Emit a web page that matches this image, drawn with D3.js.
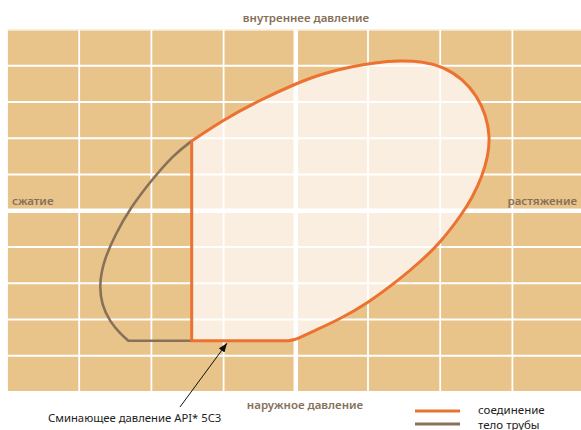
<!DOCTYPE html>
<html><head><meta charset="utf-8">
<script src="https://cdn.jsdelivr.net/npm/d3@7"></script>
<style>html,body{margin:0;padding:0;background:#fff}svg{display:block}</style>
</head><body>
<svg id="c" width="581" height="430"></svg>
<script>
// grid tick values (data units)
const xTicks = [-4,-3,-2,-1,0,1,2,3,4];
const yTicks = [-5,-4,-3,-2,-1,0,1,2,3,4,5];
// joint (соединение) envelope, curved part
const jointX = [-1.442,-1.008,-0.537,0.017,0.377,0.751,1.097,1.443,1.762,2.039,2.316,2.510,2.634,2.690,2.662,2.579,2.440,2.302,2.011,1.720,1.443,1.0,0.612,0.266,0.086,-0.025,-0.100];
const jointY = [1.924,2.503,3.014,3.524,3.786,3.966,4.090,4.145,4.117,3.979,3.634,3.166,2.641,2.034,1.510,0.931,0.352,-0.090,-0.862,-1.414,-1.883,-2.545,-2.986,-3.303,-3.469,-3.566,-3.585];
// collapse limit (API 5C3) and joint vertical limit
const collapseY = -3.585;
const jointLeftX = -1.442;
// pipe body (тело трубы) envelope, visible part
const bodyX = [-1.442,-1.697,-1.996,-2.296,-2.504,-2.666,-2.722,-2.688,-2.573,-2.435,-2.320];
const bodyY = [1.924,1.538,0.848,0.068,-0.669,-1.406,-2.048,-2.600,-3.061,-3.381,-3.585];

const labels = {top:"внутреннее давление", bottom:"наружное давление", left:"сжатие", right:"растяжение"};
const annot = "Сминающее давление API* 5C3";
const legendNames = ["соединение","тело трубы"];

const svg = d3.select("#c");
const x = d3.scaleLinear().domain([-4,4]).range([7,584.6]);
const y = d3.scaleLinear().domain([-5,5]).range([392,29.5]);

const tan = "#e8c38a", cream = "#faeee0", orange = "#ec7232", brown = "#877259", lab = "#86705a";

svg.append("rect").attr("x",x(-4)).attr("y",y(5)).attr("width",x(4)-x(-4)).attr("height",y(-5)-y(5)).attr("fill",tan);

const jointPts = jointX.map((v,i)=>[v,jointY[i]]);
const bodyPts = bodyX.map((v,i)=>[v,bodyY[i]]);
const line = d3.line().x(d=>x(d[0])).y(d=>y(d[1])).curve(d3.curveBasis);
const jointPath = line(jointPts) + "L" + x(jointLeftX) + "," + y(collapseY) + "Z";

svg.append("path").attr("d",jointPath).attr("fill",cream).attr("stroke","none");

// grid
const defs = svg.append("defs");
defs.append("clipPath").attr("id","pc").append("rect")
  .attr("x",x(-4)).attr("y",y(5)).attr("width",x(4)-x(-4)).attr("height",y(-5)-y(5));
const g = svg.append("g").attr("clip-path","url(#pc)");
g.selectAll("line.v").data(xTicks).join("line")
  .attr("x1",d=>x(d)).attr("x2",d=>x(d)).attr("y1",y(5)).attr("y2",y(-5))
  .attr("stroke","#fff").attr("stroke-width",d=>d===0?4.5:1.8);
g.selectAll("line.h").data(yTicks).join("line")
  .attr("y1",d=>y(d)).attr("y2",d=>y(d)).attr("x1",x(-4)).attr("x2",x(4))
  .attr("stroke","#fff").attr("stroke-width",d=>d===0?4.5:1.8);

// pipe body curve
svg.append("path").attr("d", line(bodyPts) + "L" + x(jointLeftX) + "," + y(collapseY))
  .attr("fill","none").attr("stroke",brown).attr("stroke-width",2.6);
// joint curve
svg.append("path").attr("d",jointPath).attr("fill","none").attr("stroke",orange).attr("stroke-width",3).attr("stroke-linejoin","miter");

// axis labels
const font = "'Noto Sans', 'Open Sans', sans-serif";
function t(txt, px, py, anchor, color, weight, size){
  svg.append("text").attr("x",px).attr("y",py).attr("text-anchor",anchor).attr("dominant-baseline","central")
    .attr("fill",color).attr("font-family",font).attr("font-weight",weight).attr("font-size",size).text(txt);
}
t(labels.top, 306, 17, "middle", lab, 600, 11.5);
t(labels.bottom, 305, 404, "middle", lab, 600, 11.5);
t(labels.left, 12, 200, "start", lab, 600, 11.5);
t(labels.right, 577, 200, "end", lab, 600, 11.5);
t(annot, 48, 417, "start", "#222", 400, 11.3);

// arrow
defs.append("marker").attr("id","ah").attr("viewBox","0 0 10 10").attr("refX",10).attr("refY",5)
  .attr("markerWidth",9).attr("markerHeight",7).attr("orient","auto").attr("markerUnits","userSpaceOnUse")
  .attr("preserveAspectRatio","none")
  .append("path").attr("d","M0,0 L10,5 L0,10 Z").attr("fill","#111");
svg.append("line").attr("x1",x(-1.604)).attr("y1",407).attr("x2",x(-0.953)).attr("y2",y(collapseY)+2.5)
  .attr("stroke","#111").attr("stroke-width",1).attr("marker-end","url(#ah)");

// legend
const legColors = [orange, brown];
legendNames.forEach((n,i)=>{
  svg.append("line").attr("x1",415).attr("x2",460).attr("y1",411+i*13).attr("y2",411+i*13)
    .attr("stroke",legColors[i]).attr("stroke-width",3);
  t(n, 478, 409+i*15, "start", "#222", 400, 11.5);
});
</script>
</body></html>
